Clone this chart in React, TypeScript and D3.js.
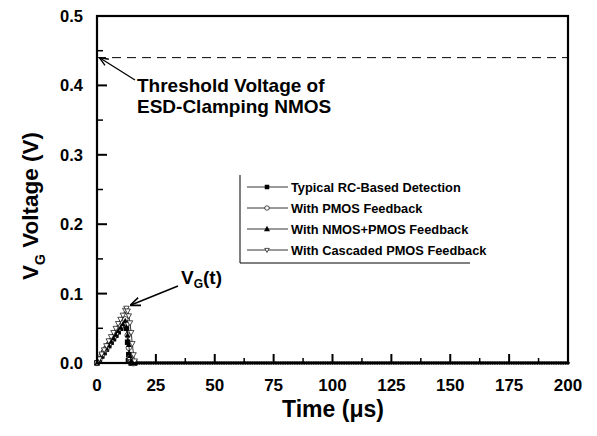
import React from "react";
import * as d3 from "d3";

// Transient gate voltage of the ESD-clamping NMOS for four detection circuits
const seriesNames = [
  "Typical RC-Based Detection",
  "With PMOS Feedback",
  "With NMOS+PMOS Feedback",
  "With Cascaded PMOS Feedback",
];

// Sample times (µs) across the pulse
const peakTimes = [0, 1, 2, 3, 4, 5, 6, 7, 8, 9, 10, 11, 12, 12.5, 13, 13.5, 14, 14.5, 15, 15.5, 16];

const typicalRC = [0, 0.005, 0.010, 0.015, 0.020, 0.025, 0.030, 0.035, 0.040, 0.045, 0.050, 0.055, 0.060, 0.050, 0.030, 0.012, 0.003, 0, 0, 0, 0];
const pmosFeedback = [0, 0.005, 0.011, 0.016, 0.021, 0.027, 0.032, 0.037, 0.042, 0.048, 0.053, 0.058, 0.063, 0.056, 0.040, 0.022, 0.008, 0.002, 0, 0, 0];
const nmosPmosFeedback = [0, 0.005, 0.010, 0.015, 0.021, 0.026, 0.031, 0.036, 0.041, 0.046, 0.051, 0.056, 0.061, 0.052, 0.040, 0.026, 0.010, 0.003, 0, 0, 0];
const cascadedPmos = [0, 0.006, 0.013, 0.019, 0.025, 0.032, 0.038, 0.044, 0.050, 0.057, 0.063, 0.069, 0.076, 0.079, 0.075, 0.068, 0.058, 0.044, 0.028, 0.012, 0.003];

// After the pulse every circuit settles at 0 V; sampled each µs to 200 µs
const tailTimes = d3.range(17, 201, 1);
const settledValue = 0;

const thresholdVoltage = 0.44;

const xTicks = [0, 25, 50, 75, 100, 125, 150, 175, 200];
const yTicks = [0, 0.1, 0.2, 0.3, 0.4, 0.5];

const W = 597;
const H = 436;
const m = { left: 97, right: 568, top: 16, bottom: 363 };

const x = d3.scaleLinear().domain([0, 200]).range([m.left, m.right]);
const y = d3.scaleLinear().domain([0, 0.5]).range([m.bottom, m.top]);

type Pt = { t: number; v: number };

function buildSeries(values: number[]): Pt[] {
  const pts = peakTimes.map((t, i) => ({ t, v: values[i] }));
  return pts.concat(tailTimes.map((t) => ({ t, v: settledValue })));
}

const allSeries = [typicalRC, pmosFeedback, nmosPmosFeedback, cascadedPmos].map(buildSeries);

const line = d3
  .line<Pt>()
  .x((d) => x(d.t))
  .y((d) => y(d.v));

function Marker({ kind, cx, cy, s }: { kind: number; cx: number; cy: number; s: number }) {
  if (kind === 0) {
    return <rect x={cx - s / 2} y={cy - s / 2} width={s} height={s} fill="#000" />;
  }
  if (kind === 1) {
    return <circle cx={cx} cy={cy} r={s / 2} fill="#fff" stroke="#000" strokeWidth={0.7} />;
  }
  if (kind === 2) {
    const h = s * 0.9;
    return (
      <path
        d={`M${cx},${cy - h * 0.6} L${cx + s / 2},${cy + h * 0.4} L${cx - s / 2},${cy + h * 0.4} Z`}
        fill="#000"
      />
    );
  }
  const h = s * 0.9;
  return (
    <path
      d={`M${cx},${cy + h * 0.6} L${cx + s / 2},${cy - h * 0.4} L${cx - s / 2},${cy - h * 0.4} Z`}
      fill="#fff"
      stroke="#000"
      strokeWidth={0.7}
    />
  );
}

const font = "Arial, 'Liberation Sans', sans-serif";

export default function App() {
  const xMinor = d3.range(12.5, 200, 25);
  const yMinor = d3.range(0.05, 0.5, 0.1);
  const legendRows = [187, 208, 229, 250];

  return (
    <svg
      width={W}
      height={H}
      style={{ position: "absolute", left: 0, top: 0, background: "#fff" }}
      fontFamily={font}
    >
      <defs>
        <marker id="arrowHead" viewBox="0 0 10 10" refX="9" refY="5" markerWidth="7" markerHeight="7" orient="auto">
          <path d="M0,1 L10,5 L0,9" fill="none" stroke="#000" strokeWidth={1.5} />
        </marker>
      </defs>
      <rect width={W} height={H} fill="#fff" />

      {/* threshold */}
      <line
        x1={x(0)}
        x2={x(200)}
        y1={y(thresholdVoltage)}
        y2={y(thresholdVoltage)}
        stroke="#000"
        strokeWidth={1}
        strokeDasharray="9,6"
      />

      {/* curves */}
      {allSeries.map((s, k) => (
        <g key={k}>
          <path d={line(s) || ""} fill="none" stroke="#000" strokeWidth={0.8} />
          {s.map((d, i) => (
            <Marker key={i} kind={k} cx={x(d.t)} cy={y(d.v)} s={d.t > 16 ? 2.5 : 5.5} />
          ))}
        </g>
      ))}

      {/* frame */}
      <rect
        x={m.left}
        y={m.top}
        width={m.right - m.left}
        height={m.bottom - m.top}
        fill="none"
        stroke="#000"
        strokeWidth={2.2}
      />

      {/* x ticks */}
      {xTicks.map((t) => (
        <g key={t}>
          <line x1={x(t)} x2={x(t)} y1={m.bottom} y2={m.bottom - 9} stroke="#000" strokeWidth={2} />
          <text x={x(t)} y={391} textAnchor="middle" fontSize={17} fontWeight="bold">
            {t}
          </text>
        </g>
      ))}
      {xMinor.map((t) => (
        <line key={t} x1={x(t)} x2={x(t)} y1={m.bottom} y2={m.bottom - 5} stroke="#000" strokeWidth={1.5} />
      ))}

      {/* y ticks */}
      {yTicks.map((v) => (
        <g key={v}>
          <line x1={m.left} x2={m.left + 10} y1={y(v)} y2={y(v)} stroke="#000" strokeWidth={2} />
          <text x={83} y={y(v) + 6} textAnchor="end" fontSize={16.5} fontWeight="bold">
            {v.toFixed(1)}
          </text>
        </g>
      ))}
      {yMinor.map((v) => (
        <line key={v} x1={m.left} x2={m.left + 6} y1={y(v)} y2={y(v)} stroke="#000" strokeWidth={1.5} />
      ))}

      {/* axis titles */}
      <text x={333} y={417} textAnchor="middle" fontSize={23} fontWeight="bold">
        Time (μs)
      </text>
      <text transform="translate(38,206) rotate(-90)" textAnchor="middle" fontSize={22.5} fontWeight="bold">
        V<tspan fontSize={14} dy={7}>G</tspan>
        <tspan dy={-7}> Voltage (V)</tspan>
      </text>

      {/* annotations */}
      <line x1={135} y1={80} x2={100} y2={58} stroke="#000" strokeWidth={1.3} markerEnd="url(#arrowHead)" />
      <text x={137} y={92} fontSize={19} fontWeight="bold">
        Threshold Voltage of
      </text>
      <text x={137} y={113} fontSize={19} fontWeight="bold">
        ESD-Clamping NMOS
      </text>

      <line x1={178} y1={286} x2={131} y2={305} stroke="#000" strokeWidth={1.5} markerEnd="url(#arrowHead)" />
      <text x={181} y={284} fontSize={19} fontWeight="bold">
        V<tspan fontSize={12} dy={4}>G</tspan>
        <tspan dy={-4}>(t)</tspan>
      </text>

      {/* legend */}
      <path d="M240,175 L240,263 L470,263" fill="none" stroke="#000" strokeWidth={1} />
      {seriesNames.map((name, k) => (
        <g key={name}>
          <line x1={247} x2={288} y1={legendRows[k]} y2={legendRows[k]} stroke="#000" strokeWidth={0.8} />
          <Marker kind={k} cx={267} cy={legendRows[k]} s={k === 2 ? 6 : 4.5} />
          <text x={291} y={legendRows[k] + 5} fontSize={12.8} fontWeight="bold">
            {name}
          </text>
        </g>
      ))}
    </svg>
  );
}
